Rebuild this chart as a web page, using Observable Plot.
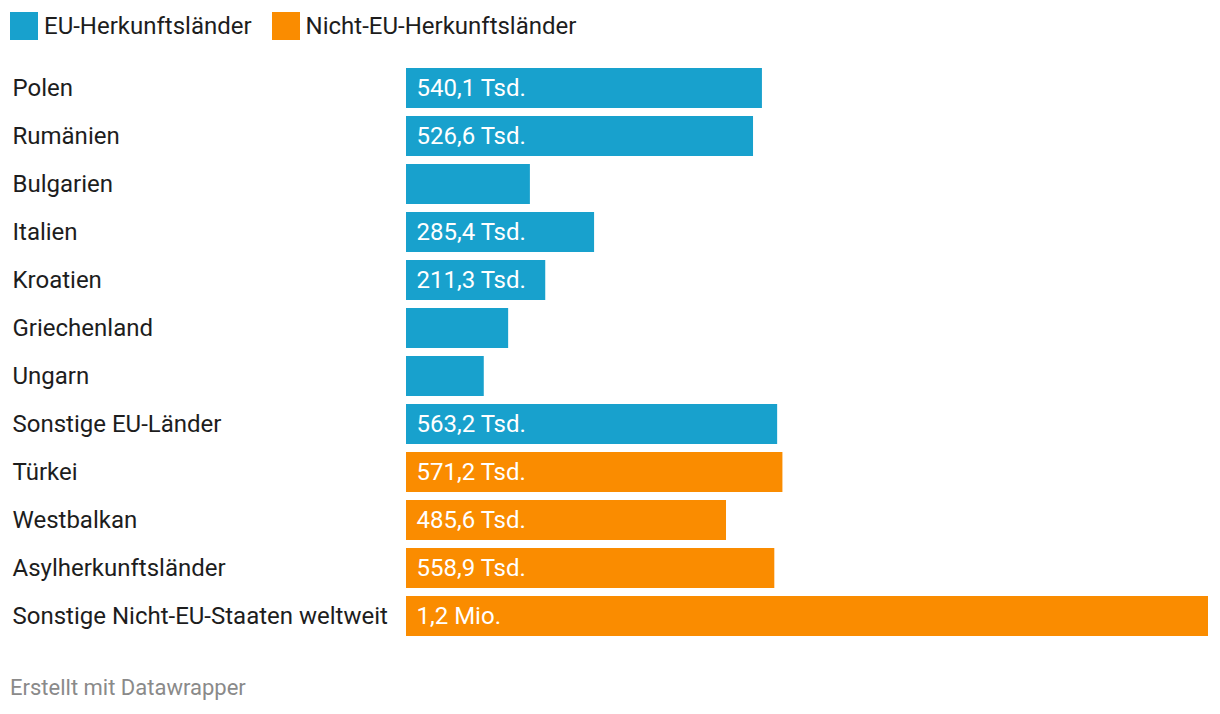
<!DOCTYPE html>
<html>
<head>
<meta charset="utf-8">
<script src="https://cdn.jsdelivr.net/npm/d3@7"></script>
<script src="https://cdn.jsdelivr.net/npm/@observablehq/plot@0.6"></script>
<style>
  body { margin: 0; background: #fff; font-family: Roboto, "Noto Sans", sans-serif; color: #1d1d1d; }
  #legend { height: 56px; display: flex; align-items: flex-start; padding-top: 12px; box-sizing: border-box; font-size: 24px; }
  .item { display: flex; align-items: center; margin-left: 10px; }
  .sw { width: 28px; height: 28px; margin-right: 6px; }
  #footer { font-size: 22px; color: #8a8a8a; margin-left: 10px; margin-top: 19px; }
  svg { display: block; }
</style>
</head>
<body>
<div id="legend"></div>
<div id="chart"></div>
<div id="footer">Erstellt mit Datawrapper</div>
<script>
const countries = ["Polen","Rumänien","Bulgarien","Italien","Kroatien","Griechenland","Ungarn","Sonstige EU-Länder","Türkei","Westbalkan","Asylherkunftsländer","Sonstige Nicht-EU-Staaten weltweit"];
const values = [540.1, 526.6, 188, 285.4, 211.3, 155, 118, 563.2, 571.2, 485.6, 558.9, 1217];
const groups = ["EU-Herkunftsländer","EU-Herkunftsländer","EU-Herkunftsländer","EU-Herkunftsländer","EU-Herkunftsländer","EU-Herkunftsländer","EU-Herkunftsländer","EU-Herkunftsländer","Nicht-EU-Herkunftsländer","Nicht-EU-Herkunftsländer","Nicht-EU-Herkunftsländer","Nicht-EU-Herkunftsländer"];
const valueLabels = ["540,1 Tsd.","526,6 Tsd.","","285,4 Tsd.","211,3 Tsd.","","","563,2 Tsd.","571,2 Tsd.","485,6 Tsd.","558,9 Tsd.","1,2 Mio."];
const legendNames = ["EU-Herkunftsländer","Nicht-EU-Herkunftsländer"];
const legendColors = ["#18a1cd","#fa8c00"];

const data = countries.map((c, i) => ({country: c, value: values[i], group: groups[i], label: valueLabels[i]}));

const legend = document.getElementById("legend");
legendNames.forEach((n, i) => {
  const it = document.createElement("div");
  it.className = "item";
  if (i > 0) it.style.marginLeft = "20px";
  const sw = document.createElement("div");
  sw.className = "sw";
  sw.style.background = legendColors[i];
  const t = document.createElement("span");
  t.textContent = n;
  it.appendChild(sw); it.appendChild(t);
  legend.appendChild(it);
});

const chart = Plot.plot({
  width: 1220,
  height: 600,
  marginLeft: 406,
  marginRight: 12,
  marginTop: 12,
  marginBottom: 20,
  style: {fontFamily: "Roboto, 'Noto Sans', sans-serif", fontSize: "24px", background: "#fff"},
  x: {domain: [0, 1217], axis: null},
  y: {domain: countries, axis: null, paddingInner: 1/6, paddingOuter: 0, round: false},
  color: {domain: legendNames, range: legendColors},
  marks: [
    Plot.barX(data, {x: "value", y: "country", fill: "group"}),
    Plot.text(data, {x: 0, y: "country", text: "label", fill: "white", textAnchor: "start", dx: 10, fontSize: 24}),
    Plot.text(data, {y: "country", text: "country", frameAnchor: "left", textAnchor: "start", dx: -394, fill: "#1d1d1d", fontSize: 24})
  ]
});
document.getElementById("chart").appendChild(chart);
</script>
</body>
</html>
